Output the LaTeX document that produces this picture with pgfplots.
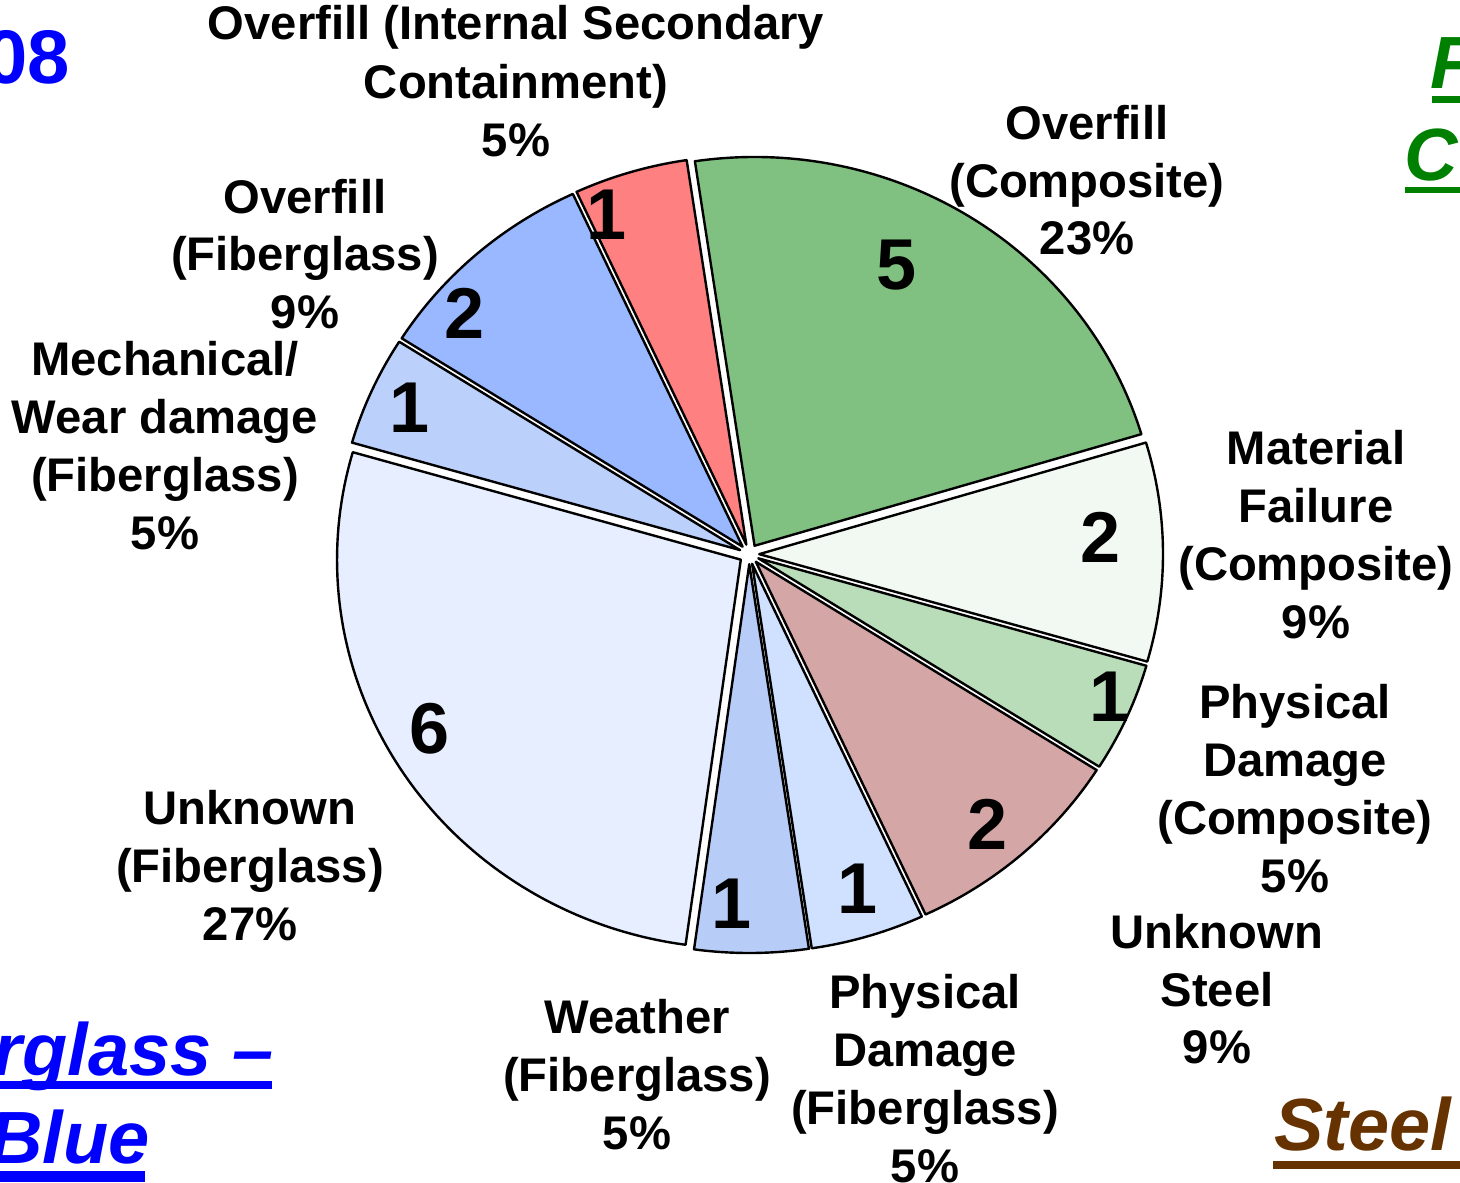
\documentclass[border=0pt]{standalone}
\usepackage{pgfplots}
\usepackage{pgfplotstable}
\pgfplotsset{compat=1.18}
\usepackage{fontspec}
\setmainfont{Liberation Sans}

\definecolor{slice0}{HTML}{80C080}
\definecolor{slice1}{HTML}{F2F8F2}
\definecolor{slice2}{HTML}{B8DDB8}
\definecolor{slice3}{HTML}{D4A6A6}
\definecolor{slice4}{HTML}{D0E0FF}
\definecolor{slice5}{HTML}{B8CCF8}
\definecolor{slice6}{HTML}{E6EEFF}
\definecolor{slice7}{HTML}{BCD0FC}
\definecolor{slice8}{HTML}{99B8FF}
\definecolor{slice9}{HTML}{FF8080}
\definecolor{steelbrown}{HTML}{663300}
\definecolor{slidegreen}{HTML}{008000}

% counts per category (clockwise from top), and position of the count label
\pgfplotstableread{
count lx   ly
5     897  265
2     1101 537
1     1110 697
2     988  824
1     858  889
1     732  904
6     430  729
1     410  408
2     465  313
1     607  215
}\piedata

\newcommand{\lab}[3]{\node[lab] at (axis cs:#1,#2) {#3};}

\begin{document}
\begin{tikzpicture}[
  lab/.style={font=\fontsize{23.6}{27}\selectfont\bfseries, anchor=base, inner sep=0pt},
  numlab/.style={font=\fontsize{36}{40}\selectfont\bfseries, anchor=center, inner sep=0pt},
  slide/.style={font=\fontsize{37}{42}\selectfont\bfseries\itshape, inner sep=0pt}]
\useasboundingbox (0,0) rectangle (730pt,591pt);
\clip (0,0) rectangle (730pt,591pt);
\begin{axis}[at={(0,0)}, anchor=south west, width=730pt, height=591pt,
  scale only axis, xmin=0, xmax=1460, ymin=0, ymax=1182, y dir=reverse,
  hide axis, clip=false]
\pgfmathsetmacro{\total}{5+2+1+2+1+1+6+1+2+1}
\xdef\cur{98.5}
\pgfplotsforeachungrouped \i in {0,...,9}{%
  \pgfplotstablegetelem{\i}{count}\of\piedata
  \let\cnt\pgfplotsretval
  \pgfplotstablegetelem{\i}{lx}\of\piedata
  \let\lx\pgfplotsretval
  \pgfplotstablegetelem{\i}{ly}\of\piedata
  \let\ly\pgfplotsretval
  \pgfmathsetmacro{\b}{\cur-360*\cnt/\total}
  \pgfmathsetmacro{\m}{(\cur+\b)/2}
  \pgfmathsetmacro{\ox}{749.2+10*cos(\m)}
  \pgfmathsetmacro{\oy}{554.2-10*sin(\m)}
  \edef\doslice{\noexpand\addplot[draw=black, line width=1.2pt, line join=round,
     fill=slice\i, domain=\b:\cur, samples=80]
     ({\ox+403.8*cos(x)},{\oy-388.8*sin(x)}) -- (axis cs:\ox,\oy) -- cycle;
     \noexpand\node[numlab] at (axis cs:\lx,\ly) {\cnt};}%
  \doslice
  \xdef\cur{\b}%
}

% category labels
\lab{516}{40}{Overfill (Internal Secondary}
\lab{516}{98}{Containment)}
\lab{516}{156}{5\%}

\lab{1087}{139}{Overfill}
\lab{1087}{197}{(Composite)}
\lab{1087}{254}{23\%}

\lab{1316}{464}{Material}
\lab{1316}{522}{Failure}
\lab{1316}{580}{(Composite)}
\lab{1316}{638}{9\%}

\lab{1295}{718}{Physical}
\lab{1295}{776}{Damage}
\lab{1295}{834}{(Composite)}
\lab{1295}{892}{5\%}

\lab{1217}{948}{Unknown}
\lab{1217}{1006}{Steel}
\lab{1217}{1063}{9\%}

\lab{925}{1008}{Physical}
\lab{925}{1066}{Damage}
\lab{925}{1124}{(Fiberglass)}
\lab{925}{1182}{5\%}

\lab{637}{1033}{Weather}
\lab{637}{1091}{(Fiberglass)}
\lab{637}{1149}{5\%}

\lab{250}{824}{Unknown}
\lab{250}{882}{(Fiberglass)}
\lab{250}{940}{27\%}

\lab{165}{375}{Mechanical/}
\lab{165}{433}{Wear damage}
\lab{165}{491}{(Fiberglass)}
\lab{165}{549}{5\%}

\lab{305}{213}{Overfill}
\lab{305}{270}{(Fiberglass)}
\lab{305}{328}{9\%}

% cropped slide texts
\node[font=\fontsize{38}{42}\selectfont\bfseries, text=blue, anchor=base east, inner sep=0pt] at (axis cs:70,83) {2008};
\node[slide, text=blue, anchor=base east] at (axis cs:274,1075) {Fiberglass --};
\fill[blue] (axis cs:0,1081) rectangle (axis cs:272,1089);
\node[slide, text=blue, anchor=base east] at (axis cs:150,1163) {Blue};
\fill[blue] (axis cs:0,1171) rectangle (axis cs:145,1182);
\node[slide, text=steelbrown, anchor=base west] at (axis cs:1274,1150) {Steel};
\fill[steelbrown] (axis cs:1273,1161) rectangle (axis cs:1460,1169);
\node[slide, text=slidegreen, anchor=base west] at (axis cs:1430,88) {F};
\fill[slidegreen] (axis cs:1432,96) rectangle (axis cs:1460,103);
\node[slide, text=slidegreen, anchor=base west] at (axis cs:1404,180) {C};
\fill[slidegreen] (axis cs:1405,187) rectangle (axis cs:1460,193);
\end{axis}
\end{tikzpicture}
\end{document}
